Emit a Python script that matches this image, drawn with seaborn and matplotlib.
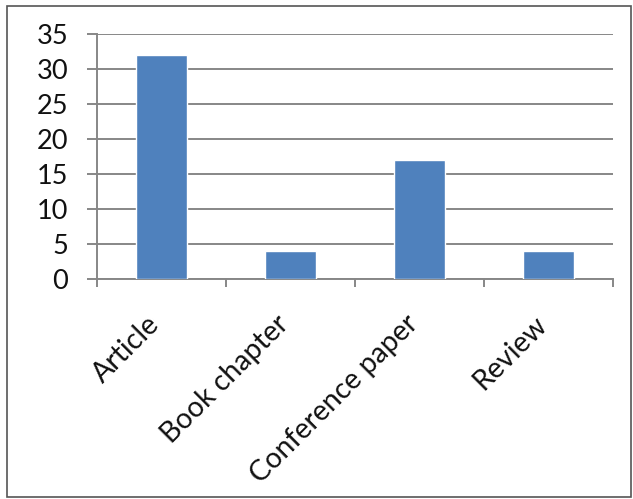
import matplotlib
matplotlib.use("Agg")
import matplotlib.pyplot as plt
import matplotlib.transforms as mtransforms
from matplotlib.patches import Rectangle
import seaborn as sns
import pandas as pd

# Publication counts by document type
categories = ["Article", "Book chapter", "Conference paper", "Review"]
counts = [32, 4, 17, 4]
y_ticks = [0, 5, 10, 15, 20, 25, 30, 35]

df = pd.DataFrame({"type": categories, "count": counts})

sns.set_theme(style="white")
plt.rcParams["font.family"] = ["Lato", "DejaVu Sans"]

W, H = 633, 499
DPI = 100
fig = plt.figure(figsize=(W / DPI, H / DPI), dpi=DPI)
fig.patch.set_facecolor("white")

# axes placed in pixel terms
left, right, top, bottom = 97, 613, 34, 279
ax = fig.add_axes([left / W, 1 - bottom / H, (right - left) / W, (bottom - top) / H])

sns.barplot(data=df, x="type", y="count", color="#4F81BD", saturation=1,
            width=0.4, ax=ax, zorder=3)

grid_c = "#878787"
px = 72 / DPI  # one pixel in points
ax.set_ylim(0, 35)
ax.set_xlim(-0.5, len(categories) - 0.5)
ax.set_yticks(y_ticks)
ax.set_yticklabels([str(t) for t in y_ticks], fontsize=19.5, color="#111111")
ax.yaxis.grid(True, color=grid_c, linewidth=1.4, zorder=0)
ax.set_axisbelow(True)

for s in ["top", "right"]:
    ax.spines[s].set_visible(False)
for s in ["left", "bottom"]:
    ax.spines[s].set_color(grid_c)
    ax.spines[s].set_linewidth(1.4)

# y ticks: short outward marks on the left
ax.tick_params(axis="y", which="major", left=True, length=10 * px, width=1.4,
               color=grid_c, direction="out", pad=19 * px)

# x ticks at the category boundaries, labels drawn separately below
ax.set_xticks([i - 0.5 for i in range(len(categories) + 1)])
ax.set_xticklabels([])
ax.tick_params(axis="x", which="major", bottom=True, length=8 * px, width=1.4,
               color=grid_c, direction="out")
ax.set_xlabel("")
ax.set_ylabel("")

offset = mtransforms.ScaledTranslation(-6 / DPI, -41 / DPI, fig.dpi_scale_trans)
for i, name in enumerate(categories):
    ax.text(i, 0, name, rotation=45, ha="right", va="center",
            rotation_mode="anchor", fontsize=20.5, color="#111111",
            transform=ax.get_xaxis_transform() + offset)

# outer frame around the chart
fig.patches.append(Rectangle((6.5 / W, 1 - 497 / H), (630.5 - 6.5) / W, (497 - 5.5) / H,
                             transform=fig.transFigure, fill=False,
                             edgecolor="#555555", linewidth=1.2))

fig.savefig("out.png", dpi=DPI, facecolor="white")
